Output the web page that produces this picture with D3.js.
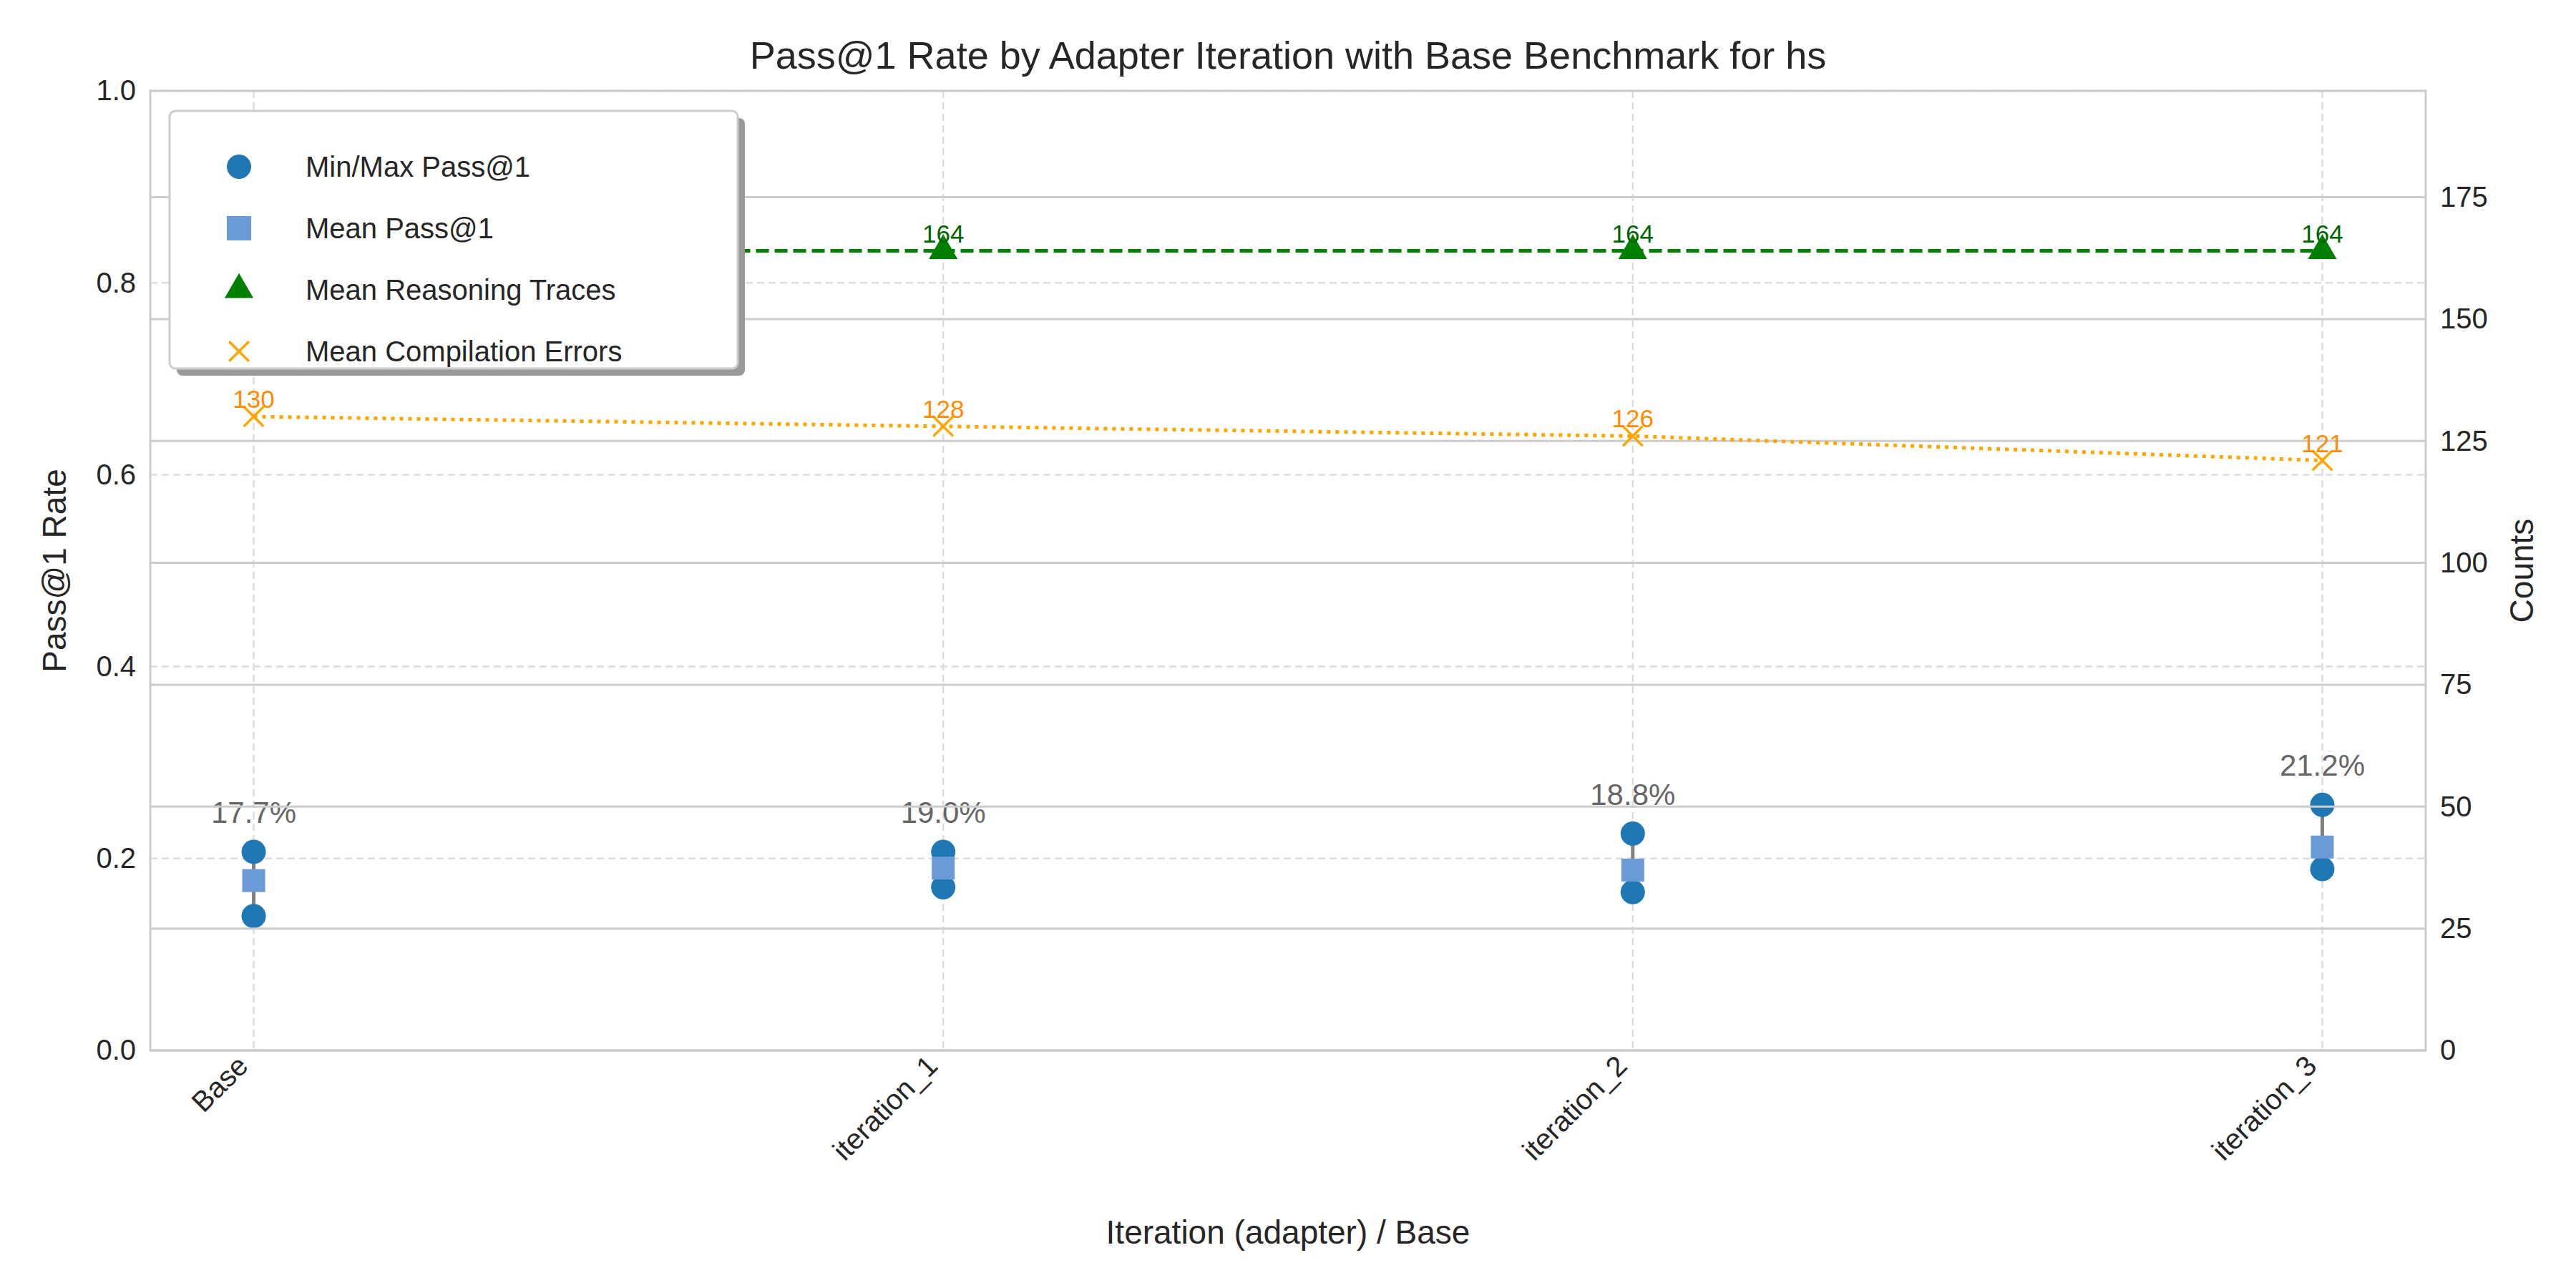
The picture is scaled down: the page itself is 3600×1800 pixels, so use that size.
<!DOCTYPE html>
<html><head><meta charset="utf-8">
<script src="https://cdn.jsdelivr.net/npm/d3@7"></script>
<style>body{margin:0;background:#fff}text{font-family:"Liberation Sans",Arial,sans-serif}</style>
</head><body><div id="chart"></div>
<script>
const categories = ["Base", "iteration_1", "iteration_2", "iteration_3"];
const minPass = [0.140, 0.170, 0.165, 0.189];
const maxPass = [0.207, 0.207, 0.226, 0.256];
const meanPass = [0.177, 0.190, 0.188, 0.212];
const reasoning = [164, 164, 164, 164];
const compileErr = [130, 128, 126, 121];
const leftTicks = [0, 0.2, 0.4, 0.6, 0.8, 1.0];
const rightTicks = [0, 25, 50, 75, 100, 125, 150, 175];

const W = 3600, H = 1800, m = {l: 210, r: 210, t: 127, b: 332};
const iw = 3390 - m.l, ih = H - m.t - m.b;
const svg = d3.select("#chart").append("svg").attr("width", W).attr("height", H);
const g = svg.append("g").attr("transform", `translate(${m.l},${m.t})`);

const x = d3.scaleLinear().domain([-0.15, 3.15]).range([0, iw]);
const y = d3.scaleLinear().domain([0, 1]).range([ih, 0]);
const y2 = d3.scaleLinear().domain([0, 196.8]).range([ih, 0]);

// left axis grid
g.selectAll(".vg").data(categories).enter().append("line")
  .attr("x1", (d, i) => x(i)).attr("x2", (d, i) => x(i)).attr("y1", 0).attr("y2", ih)
  .attr("stroke", "#dddddd").attr("stroke-width", 2.5).attr("stroke-dasharray", "10,6");
g.selectAll(".hg").data(leftTicks).enter().append("line")
  .attr("x1", 0).attr("x2", iw).attr("y1", d => y(d)).attr("y2", d => y(d))
  .attr("stroke", "#dddddd").attr("stroke-width", 2.5).attr("stroke-dasharray", "10,6");

// min-max connectors and pass markers
g.selectAll(".rng").data(categories).enter().append("line")
  .attr("x1", (d, i) => x(i)).attr("x2", (d, i) => x(i))
  .attr("y1", (d, i) => y(minPass[i])).attr("y2", (d, i) => y(maxPass[i]))
  .attr("stroke", "#808080").attr("stroke-width", 5);
g.selectAll(".mn").data(minPass.concat(maxPass)).enter().append("circle")
  .attr("cx", (d, i) => x(i % 4)).attr("cy", d => y(d)).attr("r", 17).attr("fill", "#1f77b4");
g.selectAll(".mean").data(meanPass).enter().append("rect")
  .attr("x", (d, i) => x(i) - 16).attr("y", d => y(d) - 16).attr("width", 32).attr("height", 32)
  .attr("fill", "#6a9bd8");
g.selectAll(".pct").data(meanPass).enter().append("text")
  .attr("x", (d, i) => x(i)).attr("y", (d, i) => y(maxPass[i] + 0.03))
  .attr("text-anchor", "middle").attr("font-size", 42).attr("fill", "#666666")
  .text(d => (d * 100).toFixed(1) + "%");

// legend (belongs to left axes, so twin-axis content sits on top)
const tri = d3.symbol().type(d3.symbolTriangle).size(700);
const xs = d3.symbol().type(d3.symbolX || d3.symbolTimes).size(500);
const lg = svg.append("g").attr("transform", "translate(237,155)");
lg.append("rect").attr("x", 10).attr("y", 10).attr("width", 794).attr("height", 360).attr("rx", 8).attr("fill", "#999999");
lg.append("rect").attr("width", 794).attr("height", 360).attr("rx", 8).attr("fill", "#fff")
  .attr("stroke", "#cccccc").attr("stroke-width", 3);
const items = ["Min/Max Pass@1", "Mean Pass@1", "Mean Reasoning Traces", "Mean Compilation Errors"];
items.forEach((t, k) => {
  const yy = 78 + k * 86, xx = 97;
  if (k === 0) lg.append("circle").attr("cx", xx).attr("cy", yy).attr("r", 17).attr("fill", "#1f77b4");
  if (k === 1) lg.append("rect").attr("x", xx - 17).attr("y", yy - 17).attr("width", 34).attr("height", 34).attr("fill", "#6a9bd8");
  if (k === 2) lg.append("path").attr("d", tri).attr("transform", `translate(${xx},${yy})`).attr("fill", "green");
  if (k === 3) lg.append("path").attr("d", xs)
    .attr("transform", `translate(${xx},${yy})`).attr("fill", "none").attr("stroke", "orange").attr("stroke-width", 3.5);
  lg.append("text").attr("x", 190).attr("y", yy + 14).attr("font-size", 40).attr("fill", "#262626").text(t);
});

// right axis grid
g.selectAll(".hg2").data(rightTicks).enter().append("line")
  .attr("x1", 0).attr("x2", iw).attr("y1", d => y2(d)).attr("y2", d => y2(d))
  .attr("stroke", "#cccccc").attr("stroke-width", 3);
g.append("rect").attr("width", iw).attr("height", ih).attr("fill", "none")
  .attr("stroke", "#cccccc").attr("stroke-width", 3);

// axes
const axL = g.append("g").call(d3.axisLeft(y).tickValues(leftTicks).tickFormat(d3.format(".1f")).tickSize(0).tickPadding(20));
const axR = g.append("g").attr("transform", `translate(${iw},0)`)
  .call(d3.axisRight(y2).tickValues(rightTicks).tickSize(0).tickPadding(20));
const axB = g.append("g").attr("transform", `translate(0,${ih})`)
  .call(d3.axisBottom(x).tickValues([0, 1, 2, 3]).tickFormat(i => categories[i]).tickSize(0).tickPadding(0));
[axL, axR, axB].forEach(a => { a.select(".domain").remove(); a.selectAll("text").attr("font-size", 40).attr("fill", "#262626"); });
axB.selectAll("text").attr("text-anchor", "end").attr("dy", 0)
  .attr("transform", "translate(-6,24) rotate(-45)");

// reasoning
g.append("path").datum(reasoning)
  .attr("d", d3.line().x((d, i) => x(i)).y(d => y2(d)))
  .attr("fill", "none").attr("stroke", "green").attr("stroke-width", 5).attr("stroke-dasharray", "18,8");
g.selectAll(".tri").data(reasoning).enter().append("path")
  .attr("d", tri).attr("transform", (d, i) => `translate(${x(i)},${y2(d)})`).attr("fill", "green");
g.selectAll(".rl").data(reasoning).enter().append("text")
  .attr("x", (d, i) => x(i)).attr("y", d => y2(d) - 12).attr("text-anchor", "middle")
  .attr("font-size", 35).attr("fill", "darkgreen").text(d => d);

// compile errors
g.append("path").datum(compileErr)
  .attr("d", d3.line().x((d, i) => x(i)).y(d => y2(d)))
  .attr("fill", "none").attr("stroke", "orange").attr("stroke-width", 5).attr("stroke-dasharray", "5,7");
g.selectAll(".cx").data(compileErr).enter().append("path")
  .attr("d", xs).attr("transform", (d, i) => `translate(${x(i)},${y2(d)})`)
  .attr("fill", "none").attr("stroke", "orange").attr("stroke-width", 3.5);
g.selectAll(".cl").data(compileErr).enter().append("text")
  .attr("x", (d, i) => x(i)).attr("y", d => y2(d) - 12).attr("text-anchor", "middle")
  .attr("font-size", 35).attr("fill", "darkorange").text(d => d);

// titles
svg.append("text").attr("x", m.l + iw / 2).attr("y", 96).attr("text-anchor", "middle")
  .attr("font-size", 54).attr("fill", "#262626").text("Pass@1 Rate by Adapter Iteration with Base Benchmark for hs");
svg.append("text").attr("x", m.l + iw / 2).attr("y", 1738).attr("text-anchor", "middle")
  .attr("font-size", 46).attr("fill", "#262626").text("Iteration (adapter) / Base");
svg.append("text").attr("transform", `translate(92,${m.t + ih / 2}) rotate(-90)`).attr("text-anchor", "middle")
  .attr("font-size", 46).attr("fill", "#262626").text("Pass@1 Rate");
svg.append("text").attr("transform", `translate(3540,${m.t + ih / 2}) rotate(-90)`).attr("text-anchor", "middle")
  .attr("font-size", 46).attr("fill", "#262626").text("Counts");
</script></body></html>
